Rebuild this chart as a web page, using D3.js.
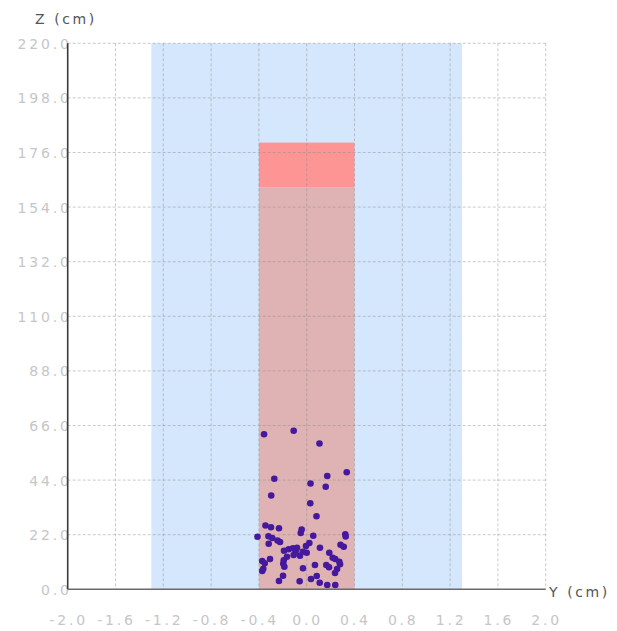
<!DOCTYPE html>
<html>
<head>
<meta charset="utf-8">
<script src="https://cdn.jsdelivr.net/npm/d3@7"></script>
<style>
  html, body { margin: 0; padding: 0; background: #ffffff; }
  svg { display: block; }
  text { font-family: "DejaVu Sans", sans-serif; }
</style>
</head>
<body>
<svg id="chart" width="617" height="631"></svg>
<script>
// ---- data ----
const xTicks = [-2.0, -1.6, -1.2, -0.8, -0.4, 0.0, 0.4, 0.8, 1.2, 1.6, 2.0];
const zTicks = [0, 22, 44, 66, 88, 110, 132, 154, 176, 198, 220];
const xLabel = "Y (cm)";
const zLabel = "Z (cm)";
// background band (Y range)
const bandRange = [-1.3, 1.3];
// column: Y extent, lower part, upper part
const barY = [-0.4, 0.4];
const barLower = [0, 162];
const barUpper = [162, 180];
// scattered points
const ptY = [-0.357,-0.109,0.107,0.335,0.172,-0.271,0.032,0.159,-0.297,0.030,
  0.082,-0.345,-0.299,-0.232,-0.042,-0.050,-0.412,-0.320,-0.288,0.055,
  0.323,0.326,-0.244,-0.223,-0.318,0.022,-0.006,0.283,0.310,0.111,
  -0.190,-0.151,-0.115,-0.081,-0.092,-0.033,0.000,0.189,-0.165,-0.109,
  -0.056,-0.307,0.218,0.239,-0.192,-0.196,-0.187,-0.372,-0.351,0.273,
  0.279,0.069,0.164,0.187,-0.363,-0.372,-0.031,0.254,-0.198,0.084,
  0.036,0.237,-0.232,-0.059,0.109,0.172,0.239];
const ptZ = [62.45,63.9,58.74,47.18,45.65,44.56,42.63,41.34,37.79,34.69,
  29.45,25.71,24.98,24.62,24.09,22.68,21.15,21.35,20.67,21.56,
  22.2,21.27,19.66,19.06,18.37,18.65,17.45,17.97,17.12,16.76,
  15.55,16.12,16.52,16.76,15.43,15.15,14.75,14.75,13.13,13.82,
  13.54,12.21,12.73,12.21,11.68,10.31,9.11,11.40,10.48,11.12,
  10.07,9.79,9.79,8.86,8.30,7.37,8.46,8.18,5.48,5.36,
  4.15,6.57,3.34,3.22,2.66,1.73,1.73];

// ---- layout ----
const svg = d3.select("#chart");
const pLeft = 67.7, pRight = 545.7, pTop = 43.3, pBottom = 589.3;
const x = d3.scaleLinear().domain([-2, 2]).range([pLeft, pRight]);
const y = d3.scaleLinear().domain([0, 220]).range([pBottom, pTop]);
const fmt = d => d.toFixed(1);

// band
svg.append("rect")
  .attr("x", x(bandRange[0])).attr("y", y(220))
  .attr("width", x(bandRange[1]) - x(bandRange[0]))
  .attr("height", y(0) - y(220))
  .attr("fill", "#d5e7fc");

// column
svg.append("rect")
  .attr("x", x(barY[0])).attr("y", y(barLower[1]))
  .attr("width", x(barY[1]) - x(barY[0]))
  .attr("height", y(barLower[0]) - y(barLower[1]))
  .attr("fill", "#dfb3b3");
svg.append("rect")
  .attr("x", x(barY[0])).attr("y", y(barUpper[1]))
  .attr("width", x(barY[1]) - x(barY[0]))
  .attr("height", y(barUpper[0]) - y(barUpper[1]))
  .attr("fill", "#fd9595");

// grid lines
const grid = svg.append("g");
grid.selectAll("line.v").data(xTicks.slice(1)).join("line")
  .attr("x1", d => x(d)).attr("x2", d => x(d))
  .attr("y1", y(220)).attr("y2", y(0))
  .attr("stroke", "#8a8a8a").attr("stroke-opacity", 0.45)
  .attr("stroke-width", 1).attr("stroke-dasharray", "3,2");
grid.selectAll("line.h").data(zTicks.slice(1)).join("line")
  .attr("x1", x(-2)).attr("x2", x(2))
  .attr("y1", d => y(d)).attr("y2", d => y(d))
  .attr("stroke", "#8a8a8a").attr("stroke-opacity", 0.45)
  .attr("stroke-width", 1).attr("stroke-dasharray", "3,2");

// points
svg.append("g").selectAll("circle")
  .data(ptY.map((v, i) => [v, ptZ[i]]))
  .join("circle")
  .attr("cx", d => x(d[0])).attr("cy", d => y(d[1]))
  .attr("r", 3.3)
  .attr("fill", "#44199e");

// tick labels (via d3 axes, domain and ticks hidden)
const xAxis = svg.append("g")
  .attr("transform", `translate(0,${pBottom})`)
  .call(d3.axisBottom(x).tickValues(xTicks).tickFormat(fmt).tickSize(0).tickPadding(0));
xAxis.select(".domain").remove();
xAxis.selectAll("text")
  .attr("y", 36).attr("dy", 0).attr("dx", 0.4)
  .attr("fill", "#c6c6c6")
  .style("font-size", "14px").style("letter-spacing", "2.8px")
  .style("font-family", "'DejaVu Sans', sans-serif");

const yAxis = svg.append("g")
  .attr("transform", `translate(${pLeft},0)`)
  .call(d3.axisLeft(y).tickValues(zTicks).tickFormat(fmt).tickSize(0).tickPadding(0));
yAxis.select(".domain").remove();
yAxis.selectAll("text")
  .attr("x", 4).attr("dy", "0.36em")
  .attr("fill", "#c6c6c6")
  .style("font-size", "14px").style("letter-spacing", "2.8px")
  .style("font-family", "'DejaVu Sans', sans-serif");

// axis lines
svg.append("line")
  .attr("x1", pLeft).attr("x2", pLeft).attr("y1", y(220)).attr("y2", y(0))
  .attr("stroke", "#3a3a3a").attr("stroke-width", 1.6);
svg.append("line")
  .attr("x1", pLeft).attr("x2", x(2)).attr("y1", y(0)).attr("y2", y(0))
  .attr("stroke", "#6a6a6a").attr("stroke-width", 1.6);

// axis titles
svg.append("text").text(zLabel)
  .attr("x", 35).attr("y", 24)
  .attr("fill", "#555").style("font-size", "14px").style("letter-spacing", "2.6px");
svg.append("text").text(xLabel)
  .attr("x", 549).attr("y", 597)
  .attr("fill", "#555").style("font-size", "14px").style("letter-spacing", "2.6px");
</script>
</body>
</html>
